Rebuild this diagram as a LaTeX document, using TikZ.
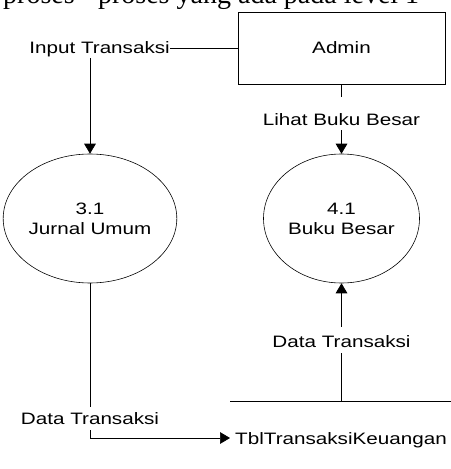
\documentclass[tikz,border=0pt]{standalone}
\usepackage{fontspec}
\setmainfont{Liberation Serif}
\setsansfont{Liberation Sans}[FakeStretch=1.25]
\usepackage{tikz}
\usetikzlibrary{arrows.meta,shapes.geometric,calc}
\newcommand\dfdfont{\sffamily\fontsize{14.1}{17}\selectfont}
\newcommand\pagefont{\rmfamily\fontsize{23.9}{28}\selectfont}

\tikzset{
    proc/.style={ellipse, draw, line width=0.5pt, minimum width=46.8mm, minimum height=38.7mm, inner sep=0pt, align=center, font=\dfdfont},
    ent/.style={rectangle, draw, line width=0.7pt, minimum width=62.1mm, minimum height=21.6mm, inner sep=0pt, font=\dfdfont},
    lbl/.style={fill=white, inner sep=0pt, font=\dfdfont},
    flow/.style={line width=0.6pt, -{Triangle[length=3mm,width=3.5mm]}},
    line/.style={line width=0.6pt}
}

\begin{document}
\begin{tikzpicture}[x=0.3mm,y=-0.3mm]
    \useasboundingbox (0,0) rectangle (451,469);
    \begin{scope}
    \clip (0,0) rectangle (451,469);
    \node[anchor=base west, inner sep=0pt, font=\pagefont] (page) at (3,4) {proses-\hspace{0.5em}proses yang ada pada level 1};
    \end{scope}

    \node[ent] (admin) at (341.5,48) {Admin};
    \node[proc] (jurnal) at (90,218.5) {3.1\\Jurnal Umum};
    \node[proc] (buku) at (341.5,218.5) {4.1\\Buku Besar};
    \node[anchor=west, inner xsep=1.5mm, inner ysep=0pt, text height=3.6mm, text depth=0pt, font=\dfdfont] (tbl) at (230,438) {TblTransaksiKeuangan};
    \coordinate (store) at (230,401);
    \coordinate (storeend) at (451,401);

    \draw[line] (store) to (storeend);
    \draw[flow] (admin.west) -| (jurnal.north);
    \draw[flow] (admin.south) to (buku.north);
    \draw[flow] (store -| buku.south) to (buku.south);
    \draw[flow] (jurnal.south) |- (tbl.west);

    \node[lbl, anchor=base east, text depth=1.2mm] (input) at (170,54) {Input Transaksi};
    \node[lbl, anchor=base, text height=8.4mm, text depth=1.5mm] (lihat) at (341.5,125) {Lihat Buku Besar};
    \node[lbl, anchor=base, text height=6mm, text depth=1.8mm] (datab) at (341.5,347) {Data Transaksi};
    \node[lbl, anchor=base, text height=5.1mm, text depth=1.8mm] (dataa) at (90,424) {Data Transaksi};
\end{tikzpicture}
\end{document}
